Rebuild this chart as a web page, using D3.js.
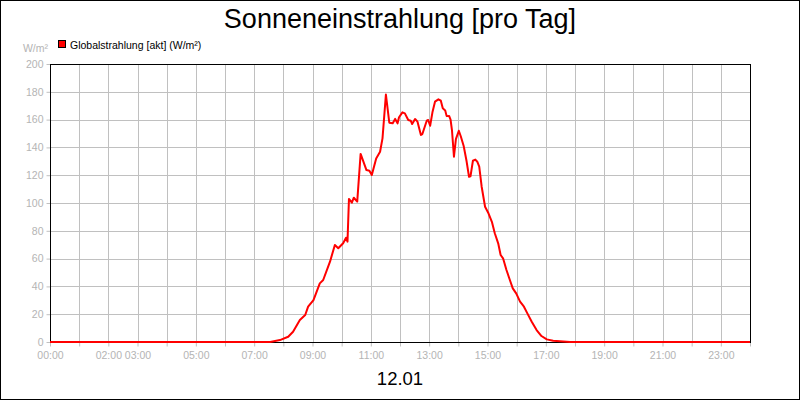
<!DOCTYPE html>
<html><head><meta charset="utf-8">
<script src="https://cdn.jsdelivr.net/npm/d3@7/dist/d3.min.js"></script>
<style>
html,body{margin:0;padding:0;background:#fff;}
svg{display:block;font-family:"Liberation Sans",Arial,sans-serif;}
</style></head>
<body>
<svg id="chart" width="800" height="400"></svg>
<script>
const title = "Sonneneinstrahlung [pro Tag]";
const dateLabel = "12.01";
const unitLabel = "W/m²";
const seriesName = "Globalstrahlung [akt] (W/m²)";
const times = ["00:00","07:33","07:53","08:10","08:20","08:34","08:45","08:51","09:02","09:15","09:22","09:36","09:46","09:53","10:03","10:09","10:12","10:15","10:21","10:25","10:32","10:39","10:51","10:57","11:02","11:11","11:19","11:24","11:31","11:38","11:45","11:50","11:55","11:58","12:05","12:10","12:17","12:22","12:25","12:31","12:36","12:43","12:46","12:55","12:58","13:02","13:07","13:12","13:19","13:24","13:28","13:33","13:36","13:41","13:44","13:47","13:51","13:55","14:01","14:05","14:11","14:17","14:22","14:25","14:30","14:35","14:39","14:43","14:48","14:55","15:02","15:09","15:15","15:22","15:27","15:32","15:39","15:46","15:52","15:59","16:07","16:15","16:22","16:31","16:41","16:51","17:02","17:15","17:29","17:50","24:00"];
const values = [0,0,1.4,3.8,7.4,15.8,19.4,25.4,30.2,42.2,44.6,57.8,69.8,67.4,71,75,72.2,102.9,100.2,103.8,101,135.3,123.7,123.2,120.1,132.1,136.9,146.5,178,157.8,157.3,160.5,157.3,161.7,165.2,164.5,159.7,159.2,156.8,160.4,158.5,148.9,149.6,159.2,159.7,155.6,165.7,172.9,174.6,173.6,168.1,166.6,162.5,162.6,160,152,133.3,146,152,148,141,130,118.9,119.2,130.4,131.2,129.7,126.1,111.7,97.3,92.6,86.5,78.2,71,62.6,60.2,51.8,44.6,38.6,35,29,25.4,20.6,14.6,8.6,4.3,1.9,0.9,0.5,0,0];
const xTickHours = d3.range(0, 25);
const xTickLabels = ["00:00","02:00","03:00","05:00","07:00","09:00","11:00","13:00","15:00","17:00","19:00","21:00","23:00"];
const yTicks = [0,20,40,60,80,100,120,140,160,180,200];

const toMin = s => { const [h,m] = s.split(":").map(Number); return h*60+m; };
const data = times.map((t,i)=>({t: toMin(t), v: values[i]}));

const svg = d3.select("#chart");
const L=50, R=750, T=64, B=342;
const x = d3.scaleLinear().domain([0,1440]).range([L,R]);
const y = d3.scaleLinear().domain([0,200]).range([B,T]);
const grid = "#c0c0c0", labelCol = "#b4b4b4";

svg.append("rect").attr("x",0.5).attr("y",0.5).attr("width",799).attr("height",399)
  .attr("fill","#fff").attr("stroke","#000").attr("stroke-width",1);

// gridlines
svg.append("g").selectAll("line").data(xTickHours.filter(h=>h>0&&h<24)).join("line")
  .attr("x1",h=>Math.round(x(h*60))+0.5).attr("x2",h=>Math.round(x(h*60))+0.5)
  .attr("y1",T).attr("y2",B).attr("stroke",grid).attr("stroke-width",1);
svg.append("g").selectAll("line").data(yTicks.filter(v=>v>0&&v<200)).join("line")
  .attr("x1",L).attr("x2",R).attr("y1",v=>Math.round(y(v))+0.5).attr("y2",v=>Math.round(y(v))+0.5)
  .attr("stroke",grid).attr("stroke-width",1);

// axes
const xAxis = d3.axisBottom(x).tickValues(xTickHours.map(h=>h*60)).tickSize(4).tickPadding(5)
  .tickFormat(m => { const lab = String(m/60).padStart(2,"0")+":00"; return xTickLabels.includes(lab)?lab:""; });
const gx = svg.append("g").attr("transform",`translate(0,${B+0.5})`).call(xAxis);
gx.select(".domain").remove();
gx.selectAll("line").attr("stroke",grid);
gx.selectAll("text").attr("fill",labelCol).style("font-size","10.5px").style("font-family","Liberation Sans, Arial, sans-serif");

const yAxis = d3.axisLeft(y).tickValues(yTicks).tickSize(4).tickPadding(3);
const gy = svg.append("g").attr("transform",`translate(${L+0.5},0)`).call(yAxis);
gy.select(".domain").remove();
gy.selectAll("line").attr("stroke",grid);
gy.selectAll("text").attr("fill",labelCol).style("font-size","10.5px").style("font-family","Liberation Sans, Arial, sans-serif");

// frame
svg.append("rect").attr("x",L+0.5).attr("y",T+0.5).attr("width",R-L).attr("height",B-T)
  .attr("fill","none").attr("stroke","#000").attr("stroke-width",1);

// series line
svg.append("path").datum(data)
  .attr("d", d3.line().x(d=>x(d.t)).y(d=>y(d.v)))
  .attr("fill","none").attr("stroke","#ff0000").attr("stroke-width",2).attr("stroke-linejoin","round");

// title and labels
svg.append("text").attr("x",400).attr("y",28).attr("text-anchor","middle")
  .style("font-size","27px").attr("fill","#000").text(title);
svg.append("text").attr("x",400).attr("y",385).attr("text-anchor","middle")
  .style("font-size","18.5px").attr("fill","#000").text(dateLabel);
svg.append("text").attr("x",48).attr("y",52).attr("text-anchor","end")
  .style("font-size","10.5px").attr("fill",labelCol).text(unitLabel);
svg.append("rect").attr("x",58.5).attr("y",40.5).attr("width",7).attr("height",7)
  .attr("fill","#ff0000").attr("stroke","#000").attr("stroke-width",1);
svg.append("text").attr("x",70).attr("y",48.5)
  .style("font-size","10.5px").attr("fill","#000").text(seriesName);
</script>
</body></html>
